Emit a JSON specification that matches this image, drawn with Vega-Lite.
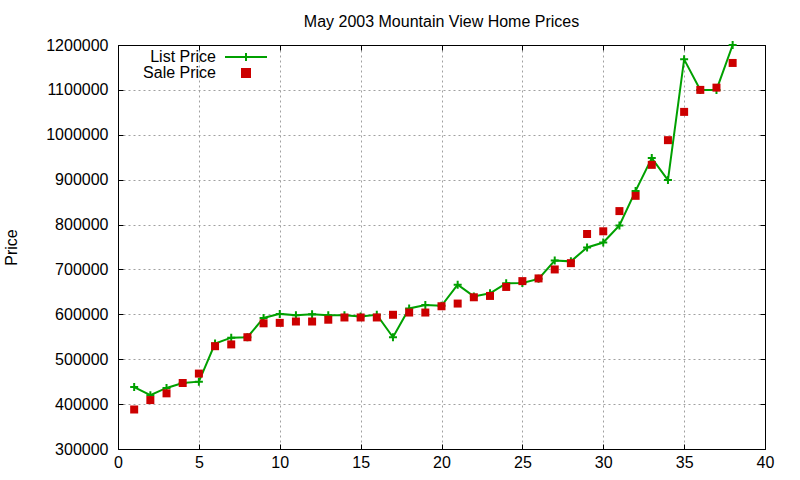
{
  "$schema": "https://vega.github.io/schema/vega-lite/v6.json",
  "width": 647,
  "height": 404,
  "autosize": {"type": "none"},
  "padding": {"left": 118, "top": 45, "right": 35, "bottom": 31},
  "background": "white",
  "config": {
    "font": "Liberation Sans",
    "view": {"stroke": "black", "strokeWidth": 1},
    "axis": {
      "labelFont": "Liberation Sans",
      "labelFontSize": 16,
      "labelColor": "black",
      "domainColor": "black",
      "tickColor": "black",
      "tickSize": -5,
      "gridColor": "#a0a0a0",
      "gridDash": [2, 3],
      "gridWidth": 1,
      "titleFont": "Liberation Sans",
      "titleFontSize": 16,
      "titleFontWeight": "normal",
      "titleColor": "black"
    }
  },
  "title": {
    "text": "May 2003 Mountain View Home Prices",
    "font": "Liberation Sans",
    "fontSize": 16,
    "fontWeight": "normal",
    "color": "black",
    "anchor": "middle",
    "baseline": "alphabetic",
    "offset": 18,
    "dy": 24
  },
  "data": {
    "values": [
      {"n": 1, "list": 438000, "sale": 388000},
      {"n": 2, "list": 420000, "sale": 409000},
      {"n": 3, "list": 436000, "sale": 424000},
      {"n": 4, "list": 447000, "sale": 447000},
      {"n": 5, "list": 450000, "sale": 468000},
      {"n": 6, "list": 535000, "sale": 529000},
      {"n": 7, "list": 548000, "sale": 533000},
      {"n": 8, "list": 549000, "sale": 549000},
      {"n": 9, "list": 592000, "sale": 580000},
      {"n": 10, "list": 601000, "sale": 581000},
      {"n": 11, "list": 598000, "sale": 584000},
      {"n": 12, "list": 600000, "sale": 584000},
      {"n": 13, "list": 598000, "sale": 588000},
      {"n": 14, "list": 598000, "sale": 593000},
      {"n": 15, "list": 595000, "sale": 593000},
      {"n": 16, "list": 599000, "sale": 593000},
      {"n": 17, "list": 549000, "sale": 599000},
      {"n": 18, "list": 613000, "sale": 604000},
      {"n": 19, "list": 621000, "sale": 604000},
      {"n": 20, "list": 619000, "sale": 618000},
      {"n": 21, "list": 666000, "sale": 624000},
      {"n": 22, "list": 640000, "sale": 638000},
      {"n": 23, "list": 647000, "sale": 641000},
      {"n": 24, "list": 669000, "sale": 661000},
      {"n": 25, "list": 670000, "sale": 674000},
      {"n": 26, "list": 679000, "sale": 680000},
      {"n": 27, "list": 720000, "sale": 700000},
      {"n": 28, "list": 718000, "sale": 714000},
      {"n": 29, "list": 749000, "sale": 779000},
      {"n": 30, "list": 760000, "sale": 785000},
      {"n": 31, "list": 798000, "sale": 830000},
      {"n": 32, "list": 875000, "sale": 864000},
      {"n": 33, "list": 948000, "sale": 933000},
      {"n": 34, "list": 899000, "sale": 988000},
      {"n": 35, "list": 1168000, "sale": 1051000},
      {"n": 36, "list": 1100000, "sale": 1100000},
      {"n": 37, "list": 1100000, "sale": 1105000},
      {"n": 38, "list": 1200000, "sale": 1160000}
    ]
  },
  "layer": [
    {
      "encoding": {
        "x": {
          "field": "n",
          "type": "quantitative",
          "scale": {"domain": [0, 40], "nice": false, "zero": false},
          "axis": {"values": [0, 5, 10, 15, 20, 25, 30, 35, 40], "format": "d", "title": null, "labelPadding": 10, "grid": true, "labelFlush": false}
        }
      },
      "layer": [
        {
          "mark": {"type": "line", "strokeWidth": 2},
          "encoding": {
            "y": {
              "field": "list",
              "type": "quantitative",
              "scale": {"domain": [300000, 1200000], "nice": false, "zero": false},
              "axis": {
                "values": [300000, 400000, 500000, 600000, 700000, 800000, 900000, 1000000, 1100000, 1200000],
                "format": "d",
                "title": "Price",
                "labelPadding": 15,
                "grid": true,
                "labelFlush": false,
                "titleX": -102,
                "titleY": 202,
                "titleAngle": -90,
                "titleBaseline": "alphabetic",
                "titleAlign": "center"
              }
            },
            "color": {
              "datum": "List Price",
              "type": "nominal",
              "scale": {"domain": ["List Price", "Sale Price"], "range": ["#00a000", "#cc0000"]},
              "legend": {
                "title": null,
                "orient": "none",
                "legendX": 120,
                "legendY": 4,
                "padding": 0,
                "labelAlign": "right",
                "labelOffset": -38,
                "labelFont": "Liberation Sans",
                "labelFontSize": 16,
                "labelColor": "black",
                "rowPadding": -2,
                "encode": {
                  "symbols": {
                    "update": {
                      "shape": {"signal": "datum.value === 'List Price' ? 'M-1,0H1M0,-0.19V0.19' : 'square'"},
                      "size": {"signal": "datum.value === 'List Price' ? 1764 : 64"},
                      "fill": {"signal": "datum.value === 'List Price' ? 'transparent' : '#cc0000'"},
                      "stroke": {"signal": "datum.value === 'List Price' ? '#00a000' : 'transparent'"},
                      "strokeWidth": {"value": 2},
                      "opacity": {"value": 1}
                    }
                  }
                }
              }
            }
          }
        },
        {
          "mark": {"type": "point", "shape": "M-1,0H1M0,-1V1", "size": 64, "filled": false, "color": "#00a000", "strokeWidth": 2, "opacity": 1},
          "encoding": {
            "y": {"field": "list", "type": "quantitative"}
          }
        },
        {
          "mark": {"type": "square", "size": 64, "opacity": 1},
          "encoding": {
            "y": {"field": "sale", "type": "quantitative"},
            "color": {"datum": "Sale Price", "type": "nominal"}
          }
        }
      ]
    },
    {
      "mark": {"type": "point", "opacity": 0},
      "encoding": {
        "x": {
          "field": "n",
          "type": "quantitative",
          "scale": {"domain": [0, 40], "nice": false, "zero": false},
          "axis": {"orient": "top", "values": [0, 5, 10, 15, 20, 25, 30, 35, 40], "labels": false, "grid": false, "title": null}
        },
        "y": {
          "field": "list",
          "type": "quantitative",
          "scale": {"domain": [300000, 1200000], "nice": false, "zero": false},
          "axis": {"orient": "right", "values": [300000, 400000, 500000, 600000, 700000, 800000, 900000, 1000000, 1100000, 1200000], "labels": false, "grid": false, "title": null}
        }
      }
    }
  ],
  "resolve": {"scale": {"x": "independent", "y": "independent"}, "axis": {"x": "independent", "y": "independent"}}
}
